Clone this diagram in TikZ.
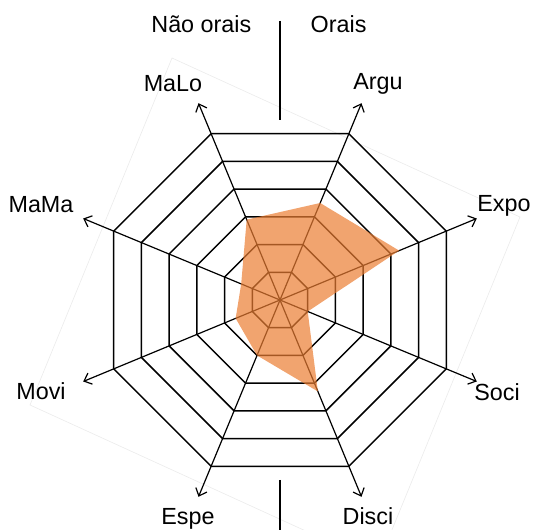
\documentclass[tikz,border=0pt]{standalone}
\usepackage{fontspec}
\setmainfont{Liberation Sans}
\usepackage{tikz}
\usetikzlibrary{shapes.geometric}
\usetikzlibrary{arrows.meta}

\definecolor{radarOrange}{RGB}{235,125,50}

\begin{document}
\begin{tikzpicture}[x=0.75pt, y=0.75pt,
	ringStyle/.style={regular polygon, regular polygon sides=8, draw, line width=1.1pt, inner sep=0pt, outer sep=0pt},
	axisStyle/.style={line width=0.9pt, -{Straight Barb[length=5pt, width=9pt]}},
	labelStyle/.style={anchor=base, font=\fontsize{17.5}{20}\selectfont},
	dataStyle/.style={fill=radarOrange, fill opacity=0.7, draw=none}]
			\useasboundingbox (-280, -230) rectangle (256, 300);
			\clip (-280, -230) rectangle (256, 300);

			% Frame
			\draw[gray!15, line width=0.5pt] (-108, 242) -- (240, 83) -- (98, -264) -- (-250, -105) -- cycle;

			% Rings
			\node[ringStyle, minimum size=45pt] (ring1) at (0, 0) {};
			\node[ringStyle, minimum size=90pt] (ring2) at (0, 0) {};
			\node[ringStyle, minimum size=135pt] (ring3) at (0, 0) {};
			\node[ringStyle, minimum size=180pt] (ring4) at (0, 0) {};
			\node[ringStyle, minimum size=225pt] (ring5) at (0, 0) {};
			\node[ringStyle, minimum size=270pt] (ring6) at (0, 0) {};

			% Axes
			\coordinate (center) at (0, 0);
			\coordinate (argu_tip) at (67.5:213);
			\coordinate (expo_tip) at (22.5:213);
			\coordinate (soci_tip) at (-22.5:213);
			\coordinate (disci_tip) at (-67.5:213);
			\coordinate (espe_tip) at (-112.5:213);
			\coordinate (movi_tip) at (-157.5:213);
			\coordinate (mama_tip) at (157.5:213);
			\coordinate (malo_tip) at (112.5:213);

			\draw[axisStyle] (center) -- (argu_tip);
			\draw[axisStyle] (center) -- (expo_tip);
			\draw[axisStyle] (center) -- (soci_tip);
			\draw[axisStyle] (center) -- (disci_tip);
			\draw[axisStyle] (center) -- (espe_tip);
			\draw[axisStyle] (center) -- (movi_tip);
			\draw[axisStyle] (center) -- (mama_tip);
			\draw[axisStyle] (center) -- (malo_tip);

			% Scores
			\fill[dataStyle] (67.5:105) -- (22.5:129) -- (-22.5:30) -- (-67.5:99)
				-- (-112.5:60) -- (-157.5:48) -- (157.5:42) -- (112.5:87) -- cycle;

			% Axis labels
			\node[labelStyle] (argu_label) at (98, 210) {Argu};
			\node[labelStyle] (expo_label) at (224, 88) {Expo};
			\node[labelStyle] (soci_label) at (217, -101) {Soci};
			\node[labelStyle] (disci_label) at (88, -225) {Disci};
			\node[labelStyle] (espe_label) at (-92, -225) {Espe};
			\node[labelStyle] (movi_label) at (-239, -100) {Movi};
			\node[labelStyle] (mama_label) at (-239, 87) {MaMa};
			\node[labelStyle] (malo_label) at (-107, 208) {MaLo};

			% Divider
			\coordinate (div_top) at (0, 279);
			\coordinate (div_topend) at (0, 180);
			\coordinate (div_bottom) at (0, -180);
			\coordinate (div_bottomend) at (0, -230);
			\draw[line width=0.9pt] (div_top) -- (div_topend);
			\draw[line width=0.9pt] (div_bottom) -- (div_bottomend);

			\node[labelStyle, anchor=base east] (nonoral_label) at (-24, 267) {Não orais};
			\node[labelStyle, anchor=base west] (oral_label) at (26, 267) {Orais};

		\end{tikzpicture}
\end{document}
